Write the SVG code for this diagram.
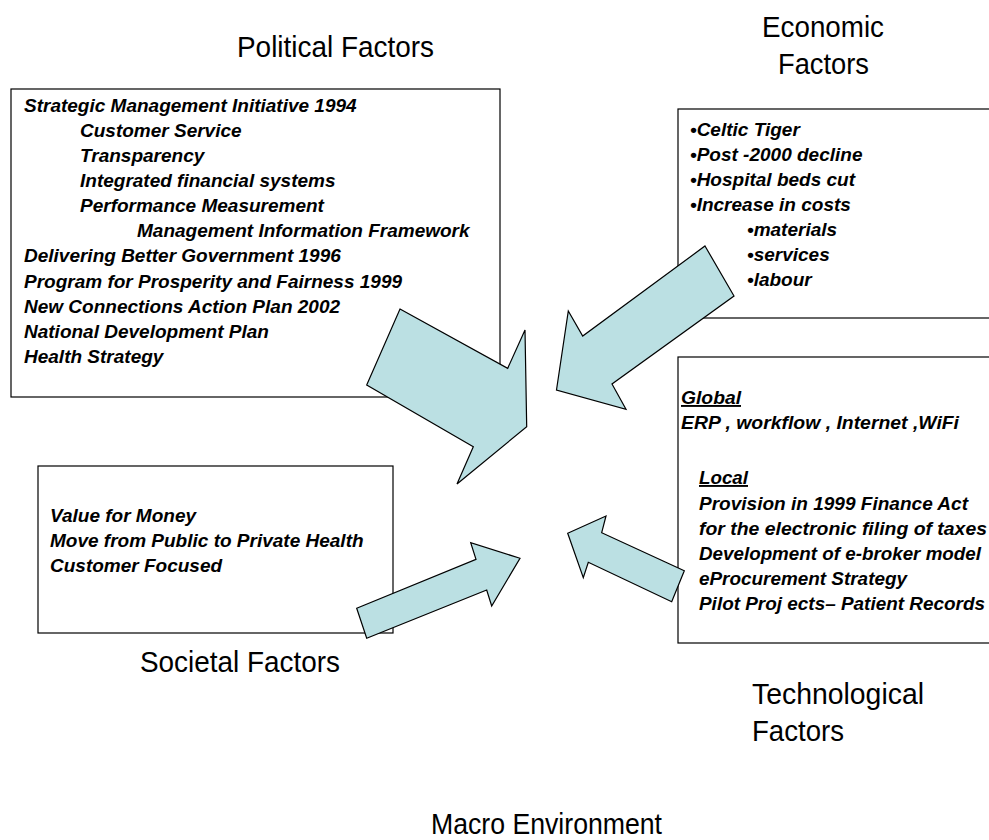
<svg xmlns="http://www.w3.org/2000/svg" width="989" height="840" viewBox="0 0 989 840">
<style>
.box{fill:#fff;stroke:#000;stroke-width:1.2}
.t{font-family:"Liberation Sans",Arial,sans-serif;font-size:19px;font-weight:bold;font-style:italic;fill:#000}
.h{font-family:"Liberation Sans",Arial,sans-serif;font-size:29px;fill:#000}
.arr{fill:#BBE0E3;stroke:#000;stroke-width:1.2;stroke-linejoin:miter}
.u{text-decoration:underline}
</style>
<rect width="989" height="840" fill="#fff"/>
<g id="political">
<text class="h" x="237" y="57" textLength="197" lengthAdjust="spacingAndGlyphs">Political Factors</text>
<rect class="box" x="11" y="89" width="489" height="308"/>
<text class="t" x="24" y="112">Strategic Management Initiative 1994</text>
<text class="t" x="80" y="137">Customer Service</text>
<text class="t" x="80" y="162">Transparency</text>
<text class="t" x="80" y="187">Integrated financial systems</text>
<text class="t" x="80" y="212">Performance Measurement</text>
<text class="t" x="137" y="237">Management Information Framework</text>
<text class="t" x="24" y="262">Delivering Better Government 1996</text>
<text class="t" x="24" y="288">Program for Prosperity and Fairness 1999</text>
<text class="t" x="24" y="313">New Connections Action Plan 2002</text>
<text class="t" x="24" y="338">National Development Plan</text>
<text class="t" x="24" y="363">Health Strategy</text>
</g>
<g id="economic">
<text class="h" x="762" y="37" textLength="122" lengthAdjust="spacingAndGlyphs">Economic</text>
<text class="h" x="778" y="74" textLength="91" lengthAdjust="spacingAndGlyphs">Factors</text>
<rect class="box" x="678" y="109" width="330" height="209"/>
<text class="t" x="690" y="136">•Celtic Tiger</text>
<text class="t" x="690" y="161">•Post -2000 decline</text>
<text class="t" x="690" y="186">•Hospital beds cut</text>
<text class="t" x="690" y="211">•Increase in costs</text>
<text class="t" x="747" y="236">•materials</text>
<text class="t" x="747" y="261">•services</text>
<text class="t" x="747" y="286">•labour</text>
</g>
<g id="technological">
<rect class="box" x="678" y="357" width="330" height="286"/>
<text class="t u" x="681" y="404" textLength="60" lengthAdjust="spacingAndGlyphs">Global</text>
<text class="t" x="681" y="429" textLength="278" lengthAdjust="spacingAndGlyphs">ERP , workflow , Internet ,WiFi</text>
<text class="t u" x="699" y="484" textLength="49" lengthAdjust="spacingAndGlyphs">Local</text>
<text class="t" x="699" y="510" textLength="269" lengthAdjust="spacingAndGlyphs">Provision in 1999 Finance Act</text>
<text class="t" x="699" y="535" textLength="288" lengthAdjust="spacingAndGlyphs">for the electronic filing of taxes</text>
<text class="t" x="699" y="560" textLength="282" lengthAdjust="spacingAndGlyphs">Development of e-broker model</text>
<text class="t" x="699" y="585" textLength="208" lengthAdjust="spacingAndGlyphs">eProcurement Strategy</text>
<text class="t" x="699" y="610" textLength="286" lengthAdjust="spacingAndGlyphs">Pilot Proj ects– Patient Records</text>
<text class="h" x="752" y="704" textLength="172" lengthAdjust="spacingAndGlyphs">Technological</text>
<text class="h" x="752" y="741" textLength="92" lengthAdjust="spacingAndGlyphs">Factors</text>
</g>
<g id="societal">
<rect class="box" x="38" y="466" width="355" height="167"/>
<text class="t" x="50" y="522">Value for Money</text>
<text class="t" x="50" y="547">Move from Public to Private Health</text>
<text class="t" x="50" y="572">Customer Focused</text>
<text class="h" x="140" y="672" textLength="200" lengthAdjust="spacingAndGlyphs">Societal Factors</text>
</g>
<g id="macro">
<text class="h" x="431" y="834" textLength="231" lengthAdjust="spacingAndGlyphs">Macro Environment</text>
</g>
<g id="connectors">
<polygon class="arr" points="400,309 507.7,368.3 525,330 526.7,426.7 457,484 473.3,446.7 366.7,385"/>
<polygon class="arr" points="705,246 734,296 612,384 626,409.3 556.5,390 568.3,311 582.7,336"/>
<polygon class="arr" points="356.7,608.3 476,559.3 470.7,542.7 520,558.3 491.7,606 486.7,590 366.7,638.3"/>
<polygon class="arr" points="684.3,570.7 601.7,532.7 606,516 567.7,533.3 583.3,577.7 588.3,562.3 671.7,601.7"/>
</g>
</svg>
